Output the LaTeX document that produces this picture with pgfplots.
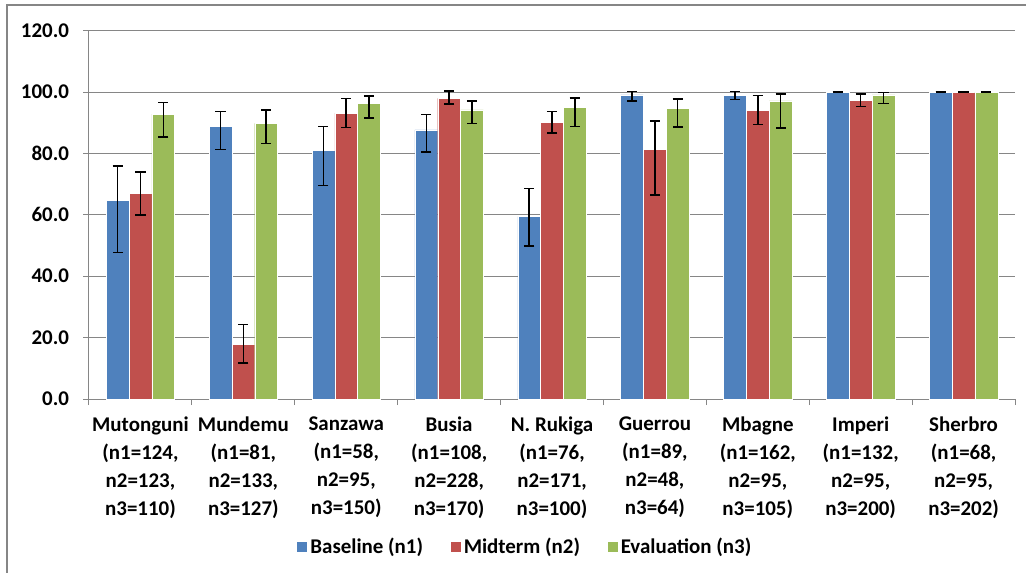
\documentclass[border=0pt]{standalone}
\usepackage{pgfplots}
\pgfplotsset{compat=1.18}
\usepackage{fontspec}
\setmainfont{Carlito}
\definecolor{cblue}{HTML}{4F81BD}
\definecolor{cred}{HTML}{C0504D}
\definecolor{cgreen}{HTML}{9BBB59}
\definecolor{gridgray}{HTML}{868686}

\pgfplotstableread{
x y ep em
0 64.7 11.2 16.9
1 88.9 4.8 7.6
2 81.1 7.6 11.5
3 87.7 5.0 7.2
4 59.4 9.1 9.5
5 99.1 1.0 2.1
6 99.0 1.1 1.5
7 100.0 0.0 0.0
8 100.0 0.0 0.0
}\baseline
\pgfplotstableread{
x y ep em
0 67.1 6.9 7.1
1 17.9 6.4 6.2
2 93.1 4.7 4.7
3 97.9 2.4 1.8
4 90.2 3.5 3.5
5 81.3 9.3 14.8
6 94.1 4.8 4.7
7 97.2 2.2 2.0
8 100.0 0.0 0.0
}\midterm
\pgfplotstableread{
x y ep em
0 92.8 3.8 7.4
1 89.8 4.3 6.6
2 96.4 2.3 4.8
3 94.2 2.9 4.5
4 95.1 3.0 6.4
5 94.7 3.0 6.1
6 97.1 2.3 8.8
7 99.1 0.7 2.9
8 100.0 0.0 0.0
}\evaluation

\begin{document}
\begin{tikzpicture}
\useasboundingbox (0,0) rectangle (769.5bp,-429.75bp);
\draw[gridgray, line width=0.9bp] (5.25bp,-440bp) -- (5.25bp,-3.75bp) -- (780bp,-3.75bp);
\begin{axis}[
  at={(66.75bp,-299.25bp)}, anchor=south west,
  scale only axis, width=694.5bp, height=276.3bp,
  font=\fontsize{15.7bp}{20.3bp}\selectfont\bfseries,
  ybar=0pt, bar width=17.1bp,
  xmin=-0.5, xmax=8.5, ymin=0, ymax=120,
  axis x line*=bottom, axis y line*=left,
  axis line style={gridgray, line width=0.75bp, -},
  ytick={0,20,...,120},
  ymajorgrids, grid style={gridgray, line width=0.75bp},
  tick align=outside, major tick length=4.5bp,
  tick style={gridgray, line width=0.75bp},
  /pgf/number format/assume math mode=true,
  yticklabel={\pgfmathprintnumber[fixed,fixed zerofill,precision=1]{\tick}},
  yticklabel style={anchor=east, xshift=-7bp},
  xtick={-0.5,0.5,...,8.5},
  xticklabels={{Mutonguni\\(n1=124,\\n2=123,\\n3=110)},
               {Mundemu\\(n1=81,\\n2=133,\\n3=127)},
               {Sanzawa\\(n1=58,\\n2=95,\\n3=150)},
               {Busia\\(n1=108,\\n2=228,\\n3=170)},
               {N. Rukiga\\(n1=76,\\n2=171,\\n3=100)},
               {Guerrou\\(n1=89,\\n2=48,\\n3=64)},
               {Mbagne\\(n1=162,\\n2=95,\\n3=105)},
               {Imperi\\(n1=132,\\n2=95,\\n3=200)},
               {Sherbro\\(n1=68,\\n2=95,\\n3=202)},{}},
  xticklabel style={align=center, anchor=north, xshift=38.6bp, yshift=-5bp,
    font=\fontsize{15.7bp}{21bp}\selectfont\bfseries},
  legend style={draw=none, fill=none, legend columns=3, at={(0.471,-0.401)}, anchor=center,
    font=\fontsize{15.7bp}{17bp}\selectfont\bfseries,
    /tikz/every even column/.append style={column sep=18bp},
    legend cell align=left},
  legend image code/.code={\fill[#1] (0bp,-4.1bp) rectangle (8.25bp,4.1bp);},
  error bars/y dir=both, error bars/y explicit,
  error bars/error bar style={black, line width=1.1bp},
  error bars/error mark options={black, rotate=90, mark size=3.8bp, line width=1.1bp},
]
\addplot[fill=cblue, draw=white, line width=0.3bp] table[x=x, y=y, y error plus=ep, y error minus=em]{\baseline};
\addplot[fill=cred, draw=white, line width=0.3bp] table[x=x, y=y, y error plus=ep, y error minus=em]{\midterm};
\addplot[fill=cgreen, draw=white, line width=0.3bp] table[x=x, y=y, y error plus=ep, y error minus=em]{\evaluation};
\legend{Baseline (n1), Midterm (n2), Evaluation (n3)}
\end{axis}
\end{tikzpicture}
\end{document}
